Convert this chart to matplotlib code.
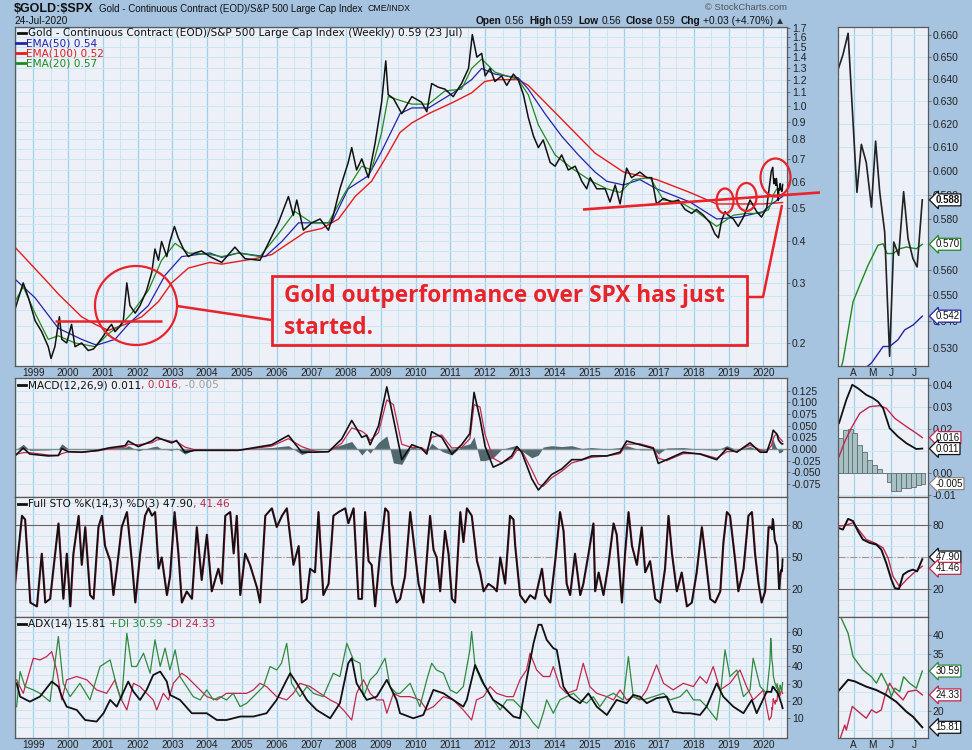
import matplotlib
matplotlib.use('Agg')
import matplotlib.pyplot as plt
from matplotlib.lines import Line2D
from matplotlib.patches import Ellipse, Rectangle
from matplotlib.ticker import NullFormatter

plt.rcParams['font.family'] = ['Liberation Sans', 'DejaVu Sans']

# ---- data (decimal years) ----
gold_x = [1998.47, 1998.71, 1998.86, 1999.05, 1999.24, 1999.43, 1999.51, 1999.62, 1999.75, 1999.82,
          1999.96, 2000.10, 2000.20, 2000.39, 2000.58, 2000.73, 2000.87, 2001.02, 2001.16, 2001.25,
          2001.35, 2001.49, 2001.59, 2001.69, 2001.78, 2001.93, 2002.07, 2002.26, 2002.41, 2002.50,
          2002.60, 2002.69, 2002.84, 2002.93, 2003.06, 2003.17, 2003.32, 2003.46, 2003.65, 2003.84,
          2004.08, 2004.42, 2004.80, 2005.09, 2005.52, 2005.76, 2006.05, 2006.34, 2006.48, 2006.58,
          2006.77, 2007.01, 2007.25, 2007.49, 2007.63, 2007.82, 2008.06, 2008.16, 2008.30, 2008.45,
          2008.64, 2008.83, 2009.02, 2009.14, 2009.21, 2009.36, 2009.60, 2009.89, 2010.17, 2010.32,
          2010.46, 2010.65, 2010.84, 2011.08, 2011.32, 2011.52, 2011.63, 2011.76, 2011.90, 2012.00,
          2012.14, 2012.28, 2012.47, 2012.62, 2012.81, 2012.95, 2013.10, 2013.24, 2013.39, 2013.53,
          2013.67, 2013.87, 2014.01, 2014.20, 2014.39, 2014.59, 2014.78, 2014.92, 2015.02, 2015.21,
          2015.45, 2015.59, 2015.74, 2015.88, 2016.07, 2016.21, 2016.45, 2016.65, 2016.79, 2016.93,
          2017.13, 2017.37, 2017.56, 2017.75, 2017.94, 2018.08, 2018.28, 2018.47, 2018.61, 2018.71,
          2018.80, 2018.90, 2018.99, 2019.14, 2019.28, 2019.43, 2019.62, 2019.81, 2019.95, 2020.10]
gold_close = [0.251, 0.301, 0.272, 0.233, 0.216, 0.195, 0.180, 0.195, 0.239, 0.205,
              0.200, 0.227, 0.195, 0.200, 0.190, 0.192, 0.200, 0.210, 0.221, 0.227,
              0.216, 0.224, 0.233, 0.301, 0.258, 0.245, 0.258, 0.286, 0.324, 0.379,
              0.351, 0.399, 0.360, 0.399, 0.442, 0.409, 0.379, 0.360, 0.369, 0.374,
              0.360, 0.346, 0.384, 0.355, 0.351, 0.394, 0.453, 0.542, 0.477, 0.529,
              0.431, 0.453, 0.465, 0.431, 0.477, 0.571, 0.683, 0.756, 0.649, 0.700,
              0.616, 0.776, 1.029, 1.363, 1.083, 1.056, 0.952, 1.069, 1.029, 0.965,
              1.169, 1.140, 1.125, 1.069, 1.169, 1.295, 1.631, 1.399, 1.435, 1.231,
              1.295, 1.185, 1.231, 1.154, 1.246, 1.200, 1.083, 0.928, 0.817, 0.756,
              0.796, 0.683, 0.666, 0.719, 0.649, 0.666, 0.601, 0.571, 0.616, 0.571,
              0.571, 0.522, 0.586, 0.515, 0.657, 0.616, 0.640, 0.616, 0.616, 0.515,
              0.535, 0.522, 0.529, 0.496, 0.483, 0.496, 0.477, 0.453, 0.420, 0.409,
              0.459, 0.489, 0.477, 0.465, 0.442, 0.471, 0.529, 0.489, 0.471, 0.502]

# last weeks (also the zoomed side panel)
recent_x = [2020.232, 2020.251, 2020.271, 2020.305, 2020.322, 2020.341, 2020.361, 2020.377, 2020.393,
            2020.412, 2020.431, 2020.447, 2020.466, 2020.485, 2020.502, 2020.521, 2020.537, 2020.557]
recent_close = [0.6441, 0.6509, 0.6608, 0.5911, 0.6113, 0.6036, 0.5850, 0.6127, 0.5911,
                0.5749, 0.5270, 0.5709, 0.5656, 0.5914, 0.5722, 0.5643, 0.5610, 0.5880]

ema100_x = [1998.47, 1999.43, 1999.72, 2000.39, 2000.78, 2001.16, 2001.64, 2002.12, 2002.60, 2002.98,
            2003.46, 2004.08, 2004.42, 2005.38, 2005.86, 2006.34, 2006.82, 2007.30, 2007.78, 2008.26,
            2008.73, 2009.12, 2009.55, 2009.89, 2010.37, 2011.08, 2011.61, 2011.99, 2012.28, 2012.95,
            2013.24, 2013.72, 2014.20, 2014.68, 2015.16, 2015.98, 2016.45, 2016.93, 2017.89, 2018.66,
            2019.33, 2020.00, 2020.557]
ema100_y = [0.384, 0.301, 0.279, 0.239, 0.227, 0.218, 0.227, 0.239, 0.265, 0.301,
            0.333, 0.346, 0.342, 0.355, 0.365, 0.394, 0.425, 0.436, 0.465, 0.542,
            0.601, 0.700, 0.838, 0.894, 0.952, 1.029, 1.097, 1.185, 1.200, 1.200,
            1.154, 1.029, 0.917, 0.817, 0.728, 0.640, 0.624, 0.608, 0.557, 0.515,
            0.515, 0.515, 0.520]

ema50_x = [1998.47, 1999.05, 1999.72, 2000.39, 2000.82, 2001.35, 2001.73, 2002.31, 2002.79, 2003.27,
           2004.08, 2004.42, 2004.90, 2005.67, 2006.15, 2006.63, 2007.10, 2007.58, 2008.06, 2008.64,
           2009.02, 2009.55, 2009.89, 2010.37, 2011.08, 2011.61, 2011.90, 2012.28, 2012.95, 2013.24,
           2013.72, 2014.20, 2014.68, 2015.16, 2015.50, 2015.98, 2016.45, 2016.93, 2017.89, 2018.66,
           2019.33, 2020.00, 2020.24,
           2020.361, 2020.406, 2020.431, 2020.463, 2020.489, 2020.521, 2020.557]
ema50_y = [0.309, 0.272, 0.221, 0.205, 0.197, 0.205, 0.227, 0.258, 0.317, 0.360,
           0.369, 0.358, 0.369, 0.360, 0.399, 0.453, 0.453, 0.453, 0.571, 0.624,
           0.737, 0.952, 0.990, 0.990, 1.097, 1.200, 1.295, 1.246, 1.215, 1.125,
           0.952, 0.817, 0.719, 0.640, 0.601, 0.586, 0.608, 0.571, 0.522, 0.465,
           0.471, 0.489, 0.515,
           0.5245, 0.5306, 0.5306, 0.5331, 0.5368, 0.5386, 0.542]

ema20_x = [1998.47, 1998.71, 1999.05, 1999.43, 1999.72, 2000.20, 2000.78, 2001.16, 2001.54, 2001.83,
           2002.31, 2002.69, 2003.08, 2003.46, 2004.08, 2004.42, 2004.90, 2005.52, 2006.05, 2006.53,
           2007.01, 2007.49, 2007.97, 2008.45, 2008.73, 2009.02, 2009.21, 2009.55, 2009.89, 2010.37,
           2010.84, 2011.32, 2011.61, 2011.90, 2012.28, 2012.95, 2013.24, 2013.53, 2014.01, 2014.49,
           2015.06, 2015.50, 2015.88, 2016.26, 2016.74, 2017.13, 2017.61, 2018.08, 2018.66, 2019.14,
           2019.52, 2019.91, 2020.15,
           2020.251, 2020.290, 2020.316, 2020.348, 2020.367, 2020.386, 2020.406, 2020.421, 2020.444,
           2020.470, 2020.496, 2020.534, 2020.557]
ema20_y = [0.265, 0.293, 0.245, 0.205, 0.210, 0.200, 0.195, 0.213, 0.227, 0.245,
           0.286, 0.351, 0.394, 0.369, 0.365, 0.360, 0.369, 0.360, 0.420, 0.489,
           0.453, 0.453, 0.557, 0.666, 0.649, 0.838, 1.069, 1.042, 1.016, 1.016,
           1.111, 1.125, 1.295, 1.381, 1.263, 1.200, 1.083, 0.882, 0.719, 0.657,
           0.601, 0.571, 0.557, 0.608, 0.616, 0.529, 0.522, 0.489, 0.442, 0.477,
           0.483, 0.483, 0.495,
           0.5251, 0.5475, 0.5539, 0.5617, 0.5656, 0.5696, 0.5702, 0.5663, 0.5663,
           0.5682, 0.5689, 0.5682, 0.570]

# MACD(12,26,9): (date, macd, signal)
macd_rows = [
    (1998.47, -0.015, -0.012), (1998.71, 0.002, -0.008), (1998.90, -0.011, -0.008),
    (1999.43, -0.015, -0.013), (1999.72, -0.014, -0.014), (1999.82, 0.001, -0.010),
    (2000.01, -0.006, -0.006), (2000.39, -0.007, -0.007), (2000.87, -0.003, -0.004),
    (2001.16, 0.002, 0.000), (2001.64, 0.007, 0.004), (2001.73, 0.017, 0.010),
    (2002.02, 0.005, 0.009), (2002.41, 0.017, 0.013), (2002.55, 0.025, 0.019),
    (2002.69, 0.021, 0.021), (2002.98, 0.013, 0.016), (2003.12, 0.018, 0.016),
    (2003.36, -0.007, 0.004), (2003.65, -0.003, -0.002), (2004.08, -0.003, -0.003),
    (2004.90, -0.003, -0.003), (2005.86, 0.009, 0.006), (2006.34, 0.029, 0.022),
    (2006.72, -0.007, 0.005), (2007.10, -0.007, -0.005), (2007.49, -0.006, -0.006),
    (2007.87, 0.021, 0.012), (2008.16, 0.061, 0.045), (2008.45, 0.025, 0.038),
    (2008.59, 0.029, 0.030), (2008.69, 0.009, 0.018), (2008.93, 0.049, 0.035),
    (2009.17, 0.133, 0.105), (2009.36, 0.065, 0.095), (2009.60, -0.023, 0.010),
    (2009.89, 0.009, 0.003), (2010.17, 0.001, 0.003), (2010.32, -0.011, -0.005),
    (2010.46, 0.037, 0.025), (2010.75, 0.025, 0.030), (2011.04, -0.011, 0.002),
    (2011.32, 0.009, 0.003), (2011.56, 0.033, 0.022), (2011.68, 0.121, 0.095),
    (2011.85, 0.065, 0.090), (2012.00, 0.005, 0.030), (2012.23, -0.039, -0.020),
    (2012.47, -0.031, -0.030), (2012.76, -0.015, -0.020), (2012.91, 0.005, -0.003),
    (2013.05, -0.007, -0.003), (2013.34, -0.064, -0.045), (2013.53, -0.088, -0.075),
    (2013.67, -0.076, -0.080), (2013.91, -0.055, -0.062), (2014.20, -0.043, -0.048),
    (2014.49, -0.023, -0.030), (2014.78, -0.023, -0.024), (2015.06, -0.015, -0.018),
    (2015.50, -0.015, -0.015), (2015.88, -0.007, -0.010), (2016.07, 0.017, 0.010),
    (2016.45, 0.009, 0.011), (2016.84, 0.001, 0.003), (2016.98, -0.031, -0.020),
    (2017.22, -0.023, -0.025), (2017.70, -0.007, -0.010), (2018.18, -0.011, -0.010),
    (2018.66, -0.023, -0.020), (2018.95, 0.001, -0.006), (2019.24, -0.007, -0.005),
    (2019.62, 0.013, 0.008), (2019.91, -0.007, -0.002), (2020.10, -0.007, -0.006)]
recent_macd = [(2020.236, 0.0226), (2020.264, 0.0332), (2020.287, 0.0401), (2020.309, 0.0385),
               (2020.341, 0.0355), (2020.367, 0.0340), (2020.386, 0.0324), (2020.406, 0.0294),
               (2020.431, 0.0203), (2020.463, 0.0165), (2020.496, 0.0134), (2020.534, 0.0108),
               (2020.557, 0.011)]
recent_signal = [(2020.236, 0.0073), (2020.258, 0.0142), (2020.283, 0.0203), (2020.316, 0.0271),
                 (2020.354, 0.0301), (2020.393, 0.0306), (2020.418, 0.0294), (2020.451, 0.0248),
                 (2020.496, 0.0210), (2020.534, 0.0180), (2020.557, 0.016)]
recent_hist_x = [2020.241, 2020.260, 2020.279, 2020.297, 2020.316, 2020.335, 2020.354, 2020.372, 2020.391,
                 2020.410, 2020.429, 2020.447, 2020.466, 2020.485, 2020.504, 2020.522, 2020.541, 2020.560]
recent_hist = [0.016, 0.0195, 0.020, 0.018, 0.0126, 0.0096, 0.0058, 0.0035, 0.0017,
               0.0, -0.0041, -0.0084, -0.0084, -0.0072, -0.0072, -0.0064, -0.0056, -0.005]

# Full STO %K(14,3)
sto_x = [1998.47, 1998.67, 1998.76, 1998.91, 1999.10, 1999.24, 1999.34, 1999.48, 1999.72, 1999.86,
         1999.96, 2000.06, 2000.15, 2000.30, 2000.39, 2000.49, 2000.63, 2000.73, 2000.87, 2000.97,
         2001.06, 2001.21, 2001.30, 2001.40, 2001.54, 2001.69, 2001.83, 2001.93, 2002.07, 2002.21,
         2002.31, 2002.41, 2002.50, 2002.60, 2002.69, 2002.84, 2002.93, 2003.06, 2003.17, 2003.27,
         2003.41, 2003.56, 2003.70, 2003.84, 2003.99,
         2004.13, 2004.32, 2004.42, 2004.52, 2004.66, 2004.76, 2004.85, 2004.95, 2005.09, 2005.23,
         2005.43, 2005.52, 2005.67, 2005.86, 2006.00, 2006.15, 2006.29, 2006.48, 2006.63, 2006.72,
         2006.86, 2006.96, 2007.10, 2007.20, 2007.34, 2007.49, 2007.63, 2007.78, 2007.97, 2008.06,
         2008.21, 2008.35, 2008.45, 2008.54, 2008.64, 2008.73, 2008.83, 2008.97, 2009.12, 2009.21,
         2009.31, 2009.45,
         2009.55, 2009.69, 2009.84, 2009.98, 2010.08, 2010.22, 2010.41, 2010.51, 2010.60, 2010.70,
         2010.84, 2010.94, 2011.04, 2011.13, 2011.28, 2011.37, 2011.47, 2011.61, 2011.76, 2011.85,
         2011.95, 2012.09, 2012.24, 2012.33, 2012.43, 2012.57, 2012.71, 2012.81, 2012.86, 2013.00,
         2013.15, 2013.29, 2013.43, 2013.63, 2013.72, 2013.87, 2014.01, 2014.15, 2014.25, 2014.34,
         2014.44, 2014.58, 2014.73, 2014.82, 2014.97, 2015.11,
         2015.16, 2015.26, 2015.40, 2015.54, 2015.69, 2015.78, 2015.93, 2016.02, 2016.12, 2016.22,
         2016.36, 2016.50, 2016.60, 2016.74, 2016.89, 2017.03, 2017.17, 2017.27, 2017.37, 2017.51,
         2017.65, 2017.80, 2017.94, 2018.08, 2018.23, 2018.32, 2018.47, 2018.61, 2018.76, 2018.85,
         2018.95, 2019.04, 2019.19, 2019.28, 2019.43, 2019.57, 2019.67, 2019.76, 2019.86, 2019.95,
         2020.05, 2020.15]
sto_k = [25.0, 88.5, 85.0, 7.4, 3.8, 53.2, 7.4, 10.9, 81.4, 10.9,
         53.2, 3.8, 53.2, 88.5, 42.6, 77.9, 14.4, 10.9, 77.9, 88.5,
         60.3, 46.2, 14.4, 39.1, 77.9, 92.0, 46.2, 7.4, 53.2, 88.5,
         95.5, 88.5, 92.0, 39.1, 49.7, 14.4, 32.1, 92.0, 53.2, 7.4,
         17.9, 10.9, 77.9, 28.5, 70.9,
         17.9, 39.1, 25.0, 88.5, 92.0, 53.2, 88.5, 14.4, 53.2, 42.6,
         21.5, 7.4, 88.5, 95.5, 77.9, 88.5, 95.5, 42.6, 60.3, 7.4,
         10.9, 39.1, 35.6, 92.0, 14.4, 25.0, 88.5, 92.0, 95.5, 81.4,
         95.5, 10.9, 10.9, 92.0, 46.2, 42.6, 3.8, 53.2, 95.5, 92.0,
         25.0, 7.4,
         10.9, 32.1, 92.0, 53.2, 25.0, 7.4, 88.5, 56.7, 49.7, 17.9,
         74.4, 53.2, 10.9, 7.4, 92.0, 63.8, 95.5, 88.5, 46.2, 35.6,
         17.9, 25.0, 21.5, 17.9, 49.7, 25.0, 88.5, 85.0, 60.3, 14.4,
         7.4, 14.4, 10.9, 39.1, 14.4, 7.4, 46.2, 92.0, 74.4, 25.0,
         14.4, 53.2, 14.4, 25.0, 53.2, 81.4,
         17.9, 35.6, 14.4, 42.6, 81.4, 70.9, 7.4, 53.2, 92.0, 60.3,
         42.6, 77.9, 35.6, 46.2, 10.9, 7.4, 39.1, 88.5, 53.2, 17.9,
         35.6, 3.8, 7.4, 35.6, 77.9, 53.2, 10.9, 7.4, 17.9, 63.8,
         92.0, 88.5, 46.2, 17.9, 39.1, 88.5, 92.0, 53.2, 25.0, 7.4,
         17.9, 77.9]
recent_k = [(2020.232, 77.2), (2020.251, 75.6), (2020.271, 85.6), (2020.290, 83.5), (2020.309, 74.1),
            (2020.328, 66.3), (2020.354, 63.2), (2020.380, 61.6), (2020.399, 56.9), (2020.418, 44.4),
            (2020.438, 28.8), (2020.451, 21.0), (2020.467, 20.1), (2020.483, 33.5), (2020.502, 36.6),
            (2020.521, 38.2), (2020.537, 36.6), (2020.557, 47.90)]
recent_d = [(2020.232, 78.8), (2020.258, 79.4), (2020.290, 81.9), (2020.316, 74.1), (2020.341, 66.3),
            (2020.373, 63.2), (2020.406, 58.5), (2020.425, 49.1), (2020.444, 32.0), (2020.470, 22.0),
            (2020.496, 28.8), (2020.521, 34.5), (2020.557, 41.46)]

# ADX(14), +DI, -DI
adx_pts = [(1998.52, 30.2), (1998.62, 22.5), (1998.90, 19.6), (1999.19, 22.5), (1999.53, 31.2),
           (1999.72, 28.3), (1999.82, 22.5), (1999.96, 16.7), (2000.25, 14.8), (2000.49, 9.0),
           (2000.82, 8.1), (2001.02, 12.9), (2001.21, 20.6), (2001.40, 16.7), (2001.73, 31.2),
           (2001.88, 25.4), (2002.07, 20.6), (2002.26, 26.4), (2002.45, 35.0), (2002.65, 37.0),
           (2002.84, 31.2), (2002.93, 23.5), (2003.22, 20.6), (2003.56, 12.9), (2003.99, 12.9),
           (2004.28, 9.0), (2004.56, 9.0), (2004.95, 11.0), (2005.33, 11.0), (2005.71, 12.9),
           (2006.00, 20.6), (2006.29, 32.2), (2006.39, 36.0), (2006.58, 30.2), (2006.87, 20.6),
           (2007.15, 14.8), (2007.54, 10.0), (2007.82, 18.7), (2008.06, 41.8), (2008.16, 44.7),
           (2008.30, 30.2), (2008.59, 20.6), (2008.88, 22.5), (2009.17, 32.2), (2009.45, 20.6),
           (2009.55, 12.9), (2009.93, 10.0), (2010.22, 11.9), (2010.51, 26.4), (2010.80, 24.4),
           (2011.08, 20.6), (2011.37, 16.7), (2011.47, 20.6), (2011.71, 40.8), (2011.95, 30.2),
           (2012.23, 20.6), (2012.52, 16.7), (2012.81, 11.0), (2013.00, 10.0), (2013.19, 32.2),
           (2013.39, 53.3), (2013.53, 64.0), (2013.62, 64.0), (2013.77, 55.3), (2013.96, 50.5),
           (2014.06, 49.5), (2014.25, 28.3), (2014.44, 22.5), (2014.73, 18.7), (2014.97, 24.4),
           (2015.21, 16.7), (2015.50, 11.9), (2015.78, 20.6), (2016.07, 18.7), (2016.26, 23.5),
           (2016.45, 22.5), (2016.65, 18.7), (2016.93, 21.6), (2017.22, 22.5), (2017.41, 13.8),
           (2017.70, 12.9), (2017.89, 12.9), (2018.18, 11.9), (2018.37, 16.7), (2018.66, 30.2),
           (2018.85, 22.5), (2019.14, 16.7), (2019.43, 12.9), (2019.67, 20.6), (2019.81, 12.9),
           (2020.10, 25.4),
           (2020.232, 25.2), (2020.271, 28.3), (2020.296, 27.9), (2020.341, 26.5), (2020.380, 25.6),
           (2020.418, 24.3), (2020.457, 22.5), (2020.496, 19.9), (2020.521, 18.6), (2020.557, 15.81)]
pdi_pts = [(1998.52, 16.7), (1998.62, 37.0), (1998.76, 28.3), (1999.00, 26.4), (1999.19, 24.4),
           (1999.48, 19.6), (1999.72, 57.2), (1999.86, 30.2), (2000.06, 22.5), (2000.34, 30.2),
           (2000.63, 20.6), (2000.92, 39.9), (2001.21, 43.7), (2001.40, 28.3), (2001.54, 20.6),
           (2001.69, 59.1), (2001.83, 39.9), (2001.97, 39.9), (2002.17, 47.6), (2002.36, 36.0),
           (2002.50, 55.3), (2002.65, 39.9), (2002.79, 50.5), (2002.93, 37.9), (2003.08, 49.5),
           (2003.22, 34.1), (2003.41, 28.3), (2003.60, 22.5), (2003.80, 20.6), (2003.99, 26.4),
           (2004.18, 20.6), (2004.37, 22.5), (2004.56, 20.6), (2004.75, 24.4), (2004.95, 16.7),
           (2005.14, 18.7), (2005.33, 22.5), (2005.62, 28.3), (2005.81, 39.9), (2006.00, 37.9),
           (2006.14, 41.8), (2006.29, 53.3), (2006.43, 30.2), (2006.67, 22.5), (2006.87, 28.3),
           (2007.06, 24.4), (2007.34, 22.5), (2007.63, 36.0), (2007.82, 34.1), (2008.02, 53.3),
           (2008.21, 43.7), (2008.40, 41.8), (2008.50, 22.5), (2008.69, 32.2), (2008.88, 36.0),
           (2009.12, 44.7), (2009.26, 28.3), (2009.45, 24.4), (2009.55, 24.4), (2009.84, 30.2),
           (2010.12, 16.7), (2010.32, 32.2), (2010.46, 41.8), (2010.60, 37.9), (2010.80, 36.0),
           (2010.99, 26.4), (2011.18, 24.4), (2011.37, 28.3), (2011.56, 49.5), (2011.61, 60.1),
           (2011.71, 39.9), (2011.90, 31.2), (2012.23, 20.6), (2012.43, 14.8), (2012.62, 20.6),
           (2012.81, 20.6), (2013.00, 16.7), (2013.19, 12.9), (2013.39, 7.1), (2013.53, 4.2),
           (2013.67, 12.9), (2013.77, 20.6), (2013.96, 12.9), (2014.15, 20.6), (2014.34, 22.5),
           (2014.54, 24.4), (2014.73, 20.6), (2014.92, 18.7), (2015.11, 22.5), (2015.30, 16.7),
           (2015.50, 22.5), (2015.69, 24.4), (2015.97, 20.6), (2016.12, 45.6), (2016.26, 22.5),
           (2016.55, 20.6), (2016.84, 22.5), (2017.13, 24.4), (2017.32, 20.6), (2017.61, 22.5),
           (2017.80, 26.4), (2017.99, 20.6), (2018.18, 20.6), (2018.37, 16.7), (2018.66, 9.0),
           (2018.76, 22.5), (2018.90, 49.5), (2019.04, 34.1), (2019.24, 37.9), (2019.43, 22.5),
           (2019.62, 26.4), (2019.71, 44.7), (2019.91, 28.3), (2020.10, 24.4), (2020.19, 41.8),
           (2020.215, 56.2),
           (2020.232, 52.0), (2020.245, 44.4), (2020.271, 40.5), (2020.290, 34.4), (2020.328, 30.9),
           (2020.361, 29.1), (2020.380, 27.4), (2020.399, 30.0), (2020.425, 26.5), (2020.438, 23.9),
           (2020.451, 26.1), (2020.470, 25.2), (2020.485, 29.1), (2020.508, 27.4), (2020.534, 26.1),
           (2020.557, 30.59)]
mdi_pts = [(1998.52, 32.2), (1998.71, 24.4), (1999.00, 44.7), (1999.19, 43.7), (1999.38, 45.6),
           (1999.53, 48.5), (1999.67, 37.9), (1999.82, 20.6), (1999.96, 32.2), (2000.25, 34.1),
           (2000.54, 32.2), (2000.82, 26.4), (2001.11, 24.4), (2001.35, 32.2), (2001.49, 22.5),
           (2001.69, 14.8), (2001.88, 30.2), (2002.07, 28.3), (2002.26, 24.4), (2002.45, 20.6),
           (2002.55, 14.8), (2002.74, 24.4), (2002.89, 20.6), (2003.03, 30.2), (2003.27, 36.0),
           (2003.41, 34.1), (2003.70, 28.3), (2003.99, 22.5), (2004.28, 20.6), (2004.56, 24.4),
           (2004.85, 24.4), (2005.14, 24.4), (2005.33, 26.4), (2005.52, 30.2), (2005.71, 28.3),
           (2006.00, 22.5), (2006.29, 20.6), (2006.48, 24.4), (2006.67, 30.2), (2006.96, 28.3),
           (2007.25, 24.4), (2007.54, 20.6), (2007.73, 18.7), (2007.92, 14.8), (2008.16, 9.0),
           (2008.30, 24.4), (2008.50, 32.2), (2008.69, 24.4), (2008.88, 20.6), (2009.07, 20.6),
           (2009.17, 12.9), (2009.36, 24.4), (2009.55, 22.5), (2009.84, 22.5), (2010.12, 20.6),
           (2010.32, 14.8), (2010.51, 16.7), (2010.80, 22.5), (2011.08, 20.6), (2011.37, 14.8),
           (2011.61, 9.0), (2011.75, 20.6), (2011.95, 22.5), (2012.14, 28.3), (2012.33, 24.4),
           (2012.62, 22.5), (2012.81, 22.5), (2013.00, 32.2), (2013.19, 37.9), (2013.29, 47.6),
           (2013.48, 37.9), (2013.67, 34.1), (2013.86, 34.1), (2013.96, 39.9), (2014.15, 28.3),
           (2014.34, 24.4), (2014.63, 26.4), (2014.82, 41.8), (2015.01, 28.3), (2015.21, 24.4),
           (2015.50, 22.5), (2015.69, 20.6), (2015.88, 26.4), (2016.07, 20.6), (2016.26, 22.5),
           (2016.45, 20.6), (2016.65, 26.4), (2016.93, 40.8), (2017.13, 30.2), (2017.41, 26.4),
           (2017.70, 30.2), (2017.99, 28.3), (2018.18, 34.1), (2018.37, 30.2), (2018.56, 39.9),
           (2018.76, 26.4), (2019.04, 30.2), (2019.33, 37.9), (2019.52, 28.3), (2019.71, 20.6),
           (2019.91, 24.4), (2020.00, 26.4), (2020.17, 9.0),
           (2020.232, 11.0), (2020.245, 13.8), (2020.258, 16.4), (2020.264, 15.1), (2020.287, 21.3),
           (2020.316, 19.6), (2020.341, 18.2), (2020.361, 20.4), (2020.380, 19.6), (2020.399, 20.4),
           (2020.412, 23.9), (2020.431, 27.4), (2020.451, 25.2), (2020.483, 23.0), (2020.502, 25.2),
           (2020.534, 25.6), (2020.557, 24.33)]

years = list(range(1999, 2021))
side_months = ['A', 'M', 'J', 'J']
side_month_x = [2020.292, 2020.364, 2020.436, 2020.525]

# ---- colours ----
BG = '#a6c3e0'
PANEL = '#eef0f7'
GRID_MAJ = '#9dd2ee'
GRID_MIN = '#c9e5f4'
SPINE = '#5a5a5a'
ANN = '#e8232a'
CRIMSON = '#c2284e'
GREEN_DI = '#2f8a3f'
C_EMA20 = '#1e8a1e'
C_EMA50 = '#2323a8'
C_EMA100 = '#e51c1c'
HIST = '#50686e'

W, H = 972, 750
fig = plt.figure(figsize=(W / 100, H / 100), dpi=100)
fig.patch.set_facecolor(BG)


def fx(px):
    return px / W


def fy(py):
    return 1 - py / H


def panel(left, top, right, bottom):
    ax = fig.add_axes([fx(left), fy(bottom), (right - left) / W, (bottom - top) / H])
    ax.set_facecolor(PANEL)
    for s in ax.spines.values():
        s.set_color(SPINE)
        s.set_linewidth(0.9)
    ax.yaxis.tick_right()
    ax.tick_params(axis='y', which='major', length=2, width=0.6, color='#666', pad=1.5,
                   labelsize=7.5, labelcolor='#222')
    ax.tick_params(axis='y', which='minor', length=0)
    ax.tick_params(axis='x', which='both', length=0, labelbottom=False, labelsize=7.3,
                   labelcolor='#222', pad=1.5)
    ax.set_axisbelow(True)
    return ax


def year_grid(ax):
    ax.set_xlim(1998.473, 2020.683)
    ax.set_xticks(years)
    ax.set_xticks([y + 0.5 for y in range(1998, 2021)], minor=True)
    ax.grid(which='major', axis='x', color=GRID_MAJ, lw=0.9)
    ax.grid(which='minor', axis='x', color=GRID_MIN, lw=0.7)
    ax.grid(which='both', axis='y', color=GRID_MIN, lw=0.7)


def side_grid(ax):
    ax.set_xlim(2020.232, 2020.579)
    ax.set_xticks(side_month_x)
    ax.set_xticklabels(side_months)
    ax.grid(which='major', axis='x', color=GRID_MAJ, lw=0.9)
    ax.grid(which='both', axis='y', color=GRID_MIN, lw=0.7)


def tag(ax, y, s, color, bold=False, dy=0.0):
    ax.annotate(s, xy=(1.0, y), xycoords=('axes fraction', 'data'), xytext=(5.5, dy),
                textcoords='offset points', ha='left', va='center', fontsize=7.0, color='#111',
                fontweight='bold' if bold else 'normal', annotation_clip=False, zorder=20,
                bbox=dict(boxstyle='larrow,pad=0.1', fc='white', ec=color, lw=0.9))


def unzip(pts):
    return [p[0] for p in pts], [p[1] for p in pts]


# ---------------- main price panel ----------------
ax = panel(15, 27, 787, 366)
ax.set_yscale('log')
year_grid(ax)
ax.set_ylim(0.171, 1.717)
main_ticks = [0.2, 0.3, 0.4, 0.5, 0.6, 0.7, 0.8, 0.9, 1.0, 1.1, 1.2, 1.3, 1.4, 1.5, 1.6, 1.7]
ax.set_yticks(main_ticks)
ax.set_yticklabels(['%.1f' % v for v in main_ticks])
ax.set_yticks([0.225, 0.25, 0.275, 0.325, 0.35, 0.375, 0.425, 0.45, 0.475, 0.55, 0.65, 0.75, 0.85],
              minor=True)
ax.yaxis.set_minor_formatter(NullFormatter())
ax.tick_params(axis='x', labelbottom=True)
ax.set_xticklabels([str(y) for y in years])
ax.plot(ema100_x, ema100_y, color=C_EMA100, lw=1.0)
ax.plot(ema50_x, ema50_y, color=C_EMA50, lw=0.9)
ax.plot(ema20_x, ema20_y, color=C_EMA20, lw=0.9)
ax.plot(gold_x + recent_x, gold_close + recent_close, color='#111', lw=1.1)

# side price panel (0.570 tick sits under the EMA(20) tag)
sx = panel(838, 27, 928, 366)
sx.set_yscale('log')
side_grid(sx)
sx.set_ylim(0.5234, 0.6637)
side_ticks = [0.53, 0.54, 0.55, 0.56, 0.58, 0.59, 0.60, 0.61, 0.62, 0.63, 0.64, 0.65, 0.66]
sx.set_yticks(side_ticks)
sx.set_yticklabels(['%.3f' % v for v in side_ticks])
sx.set_yticks([0.57], minor=True)
sx.yaxis.set_minor_formatter(NullFormatter())
sx.tick_params(axis='x', labelbottom=True)
sx.plot(ema50_x, ema50_y, color=C_EMA50, lw=1.0)
sx.plot(ema20_x, ema20_y, color=C_EMA20, lw=1.0)
sx.plot(recent_x, recent_close, color='#222', lw=1.2)
tag(sx, recent_close[-1], '0.588', '#111', bold=True)
tag(sx, ema20_y[-1], '0.570', C_EMA20)
tag(sx, ema50_y[-1], '0.542', C_EMA50)

# ---------------- MACD ----------------
mx = panel(15, 378, 787, 497)
year_grid(mx)
mx.set_ylim(-0.103, 0.152)
macd_ticks = [0.125, 0.100, 0.075, 0.050, 0.025, 0.0, -0.025, -0.050, -0.075]
mx.set_yticks(macd_ticks)
mx.set_yticklabels(['%.3f' % v for v in macd_ticks])
m_x = [r[0] for r in macd_rows]
m_hist = [r[1] - r[2] for r in macd_rows]
mx.fill_between(m_x, 0, m_hist, color=HIST, lw=0)
mx.fill_between(recent_hist_x, 0, recent_hist, color=HIST, lw=0)
mx.axhline(0, color='#7d8f94', lw=1.0)
rm_x, rm_y = unzip(recent_macd)
rs_x, rs_y = unzip(recent_signal)
mx.plot(m_x + rs_x, [r[2] for r in macd_rows] + rs_y, color=CRIMSON, lw=0.9)
mx.plot(m_x + rm_x, [r[1] for r in macd_rows] + rm_y, color='#111', lw=1.2)

smx = panel(838, 378, 928, 497)
side_grid(smx)
smx.tick_params(axis='x', labelbottom=False)
smx.set_ylim(-0.0111, 0.0432)
smx.set_yticks([0.04, 0.03, 0.02, 0.0, -0.01])
smx.set_yticklabels(['0.04', '0.03', '0.02', '0.00', '-0.01'])
smx.set_yticks([0.01], minor=True)
smx.bar(recent_hist_x, recent_hist, width=0.0185, color='#a9c0c2', edgecolor='#5a6e72', lw=0.6)
smx.plot(rs_x, rs_y, color=CRIMSON, lw=1.0)
smx.plot(rm_x, rm_y, color='#111', lw=1.3)
tag(smx, 0.016, '0.016', CRIMSON)
tag(smx, 0.011, '0.011', '#111')
tag(smx, -0.005, '-0.005', '#888')

# ---------------- Full STO ----------------
stx = panel(15, 497, 787, 617)
year_grid(stx)
stx.set_ylim(-6, 106)
stx.set_yticks([80, 50, 20])
stx.set_yticks([0, 10, 30, 40, 60, 70, 90, 100], minor=True)
stx.axhline(80, color='#666', lw=0.8)
stx.axhline(20, color='#666', lw=0.8)
stx.axhline(50, color='#999', lw=0.8, ls='-.')
rk_x, rk_y = unzip(recent_k)
rd_x, rd_y = unzip(recent_d)
# %D is the %K line lagged by about a week
stx.plot([v + 0.019 for v in sto_x] + rd_x, sto_k + rd_y, color=CRIMSON, lw=0.9)
stx.plot(sto_x + rk_x, sto_k + rk_y, color='#111', lw=1.3)

sstx = panel(838, 497, 928, 617)
side_grid(sstx)
sstx.tick_params(axis='x', labelbottom=False)
sstx.set_ylim(-6, 106)
sstx.set_yticks([80, 20])
sstx.set_yticks([0, 10, 30, 40, 50, 60, 70, 90, 100], minor=True)
sstx.axhline(80, color='#666', lw=0.8)
sstx.axhline(20, color='#666', lw=0.8)
sstx.axhline(50, color='#999', lw=0.8, ls='-.')
sstx.plot(rd_x, rd_y, color=CRIMSON, lw=1.0)
sstx.plot(rk_x, rk_y, color='#111', lw=1.4)
tag(sstx, 47.90, '47.90', '#111', dy=1.6)
tag(sstx, 41.46, '41.46', CRIMSON, dy=-1.6)

# ---------------- ADX ----------------
dx = panel(15, 617, 787, 738)
year_grid(dx)
dx.set_ylim(-1.4, 68.5)
dx.set_yticks([10, 20, 30, 40, 50, 60])
dx.set_yticks([5, 15, 25, 35, 45, 55, 65], minor=True)
dx.tick_params(axis='x', labelbottom=True)
dx.set_xticklabels([str(y) for y in years])
a_x, a_y = unzip(adx_pts)
p_x, p_y = unzip(pdi_pts)
n_x, n_y = unzip(mdi_pts)
dx.plot(n_x, n_y, color=CRIMSON, lw=0.9)
dx.plot(p_x, p_y, color=GREEN_DI, lw=0.9)
dx.plot(a_x, a_y, color='#111', lw=1.3)

sdx = panel(838, 617, 928, 738)
side_grid(sdx)
sdx.tick_params(axis='x', labelbottom=True)
sdx.set_ylim(13.0, 44.8)
sdx.set_yticks([20, 35, 40])
sdx.set_yticks([15, 25, 30], minor=True)
sdx.plot(n_x, n_y, color=CRIMSON, lw=1.0)
sdx.plot(p_x, p_y, color=GREEN_DI, lw=1.0)
sdx.plot(a_x, a_y, color='#111', lw=1.4)
tag(sdx, 30.59, '30.59', GREEN_DI)
tag(sdx, 24.33, '24.33', CRIMSON)
tag(sdx, 15.81, '15.81', '#111')

# ---------------- texts ----------------
renderer = fig.canvas.get_renderer()


def runs(x, y, parts, size, family='Liberation Sans'):
    for p in parts:
        s, c, w, gap = p[:4]
        sz = p[4] if len(p) > 4 else size
        t = fig.text(fx(x), fy(y), s, color=c, fontweight=w, fontsize=sz, family=family,
                     ha='left', va='center')
        x += t.get_window_extent(renderer).width + gap


def marker(x0, x1, y, color):
    fig.add_artist(Line2D([fx(x0), fx(x1)], [fy(y), fy(y)], color=color, lw=2.0,
                          transform=fig.transFigure))


runs(14, 8.5, [('\\$GOLD:\\$SPX', '#111', 'bold', 5, 9.0),
               ('Gold - Continuous Contract (EOD)/S&P 500 Large Cap Index', '#111', 'normal', 5, 7.0),
               ('CME/INDX', '#111', 'normal', 0, 6.3)], 7.0)
runs(14, 20.5, [('24-Jul-2020', '#111', 'normal', 0)], 7.2)
fig.text(fx(787), fy(8), '\u00a9 StockCharts.com', color='#555', fontsize=6.8, ha='right', va='center')
runs(476, 20.5, [('Open', '#111', 'bold', 2.5), ('0.56', '#111', 'normal', 5),
                 ('High', '#111', 'bold', 2.5), ('0.59', '#111', 'normal', 5),
                 ('Low', '#111', 'bold', 2.5), ('0.56', '#111', 'normal', 5),
                 ('Close', '#111', 'bold', 2.5), ('0.59', '#111', 'normal', 5),
                 ('Chg', '#111', 'bold', 2.5), ('+0.03 (+4.70%)', '#111', 'normal', 2),
                 ('\u25b2', '#333', 'normal', 0)], 7.3)

LF = 'DejaVu Sans'
LS = 7.6
marker(18, 26, 33, '#111')
runs(28, 33, [('Gold - Continuous Contract (EOD)/S&P 500 Large Cap Index (Weekly) 0.59 (23 Jul)',
               '#111', 'normal', 0)], LS, LF)
marker(16, 25, 43, C_EMA50)
runs(26, 43, [('EMA(50) 0.54', C_EMA50, 'normal', 0)], LS, LF)
marker(16, 25, 53, C_EMA100)
runs(26, 53, [('EMA(100) 0.52', C_EMA100, 'normal', 0)], LS, LF)
marker(16, 25, 63, C_EMA20)
runs(26, 63, [('EMA(20) 0.57', C_EMA20, 'normal', 0)], LS, LF)

marker(18, 26, 385, '#111')
runs(28, 385, [('MACD(12,26,9) 0.011', '#111', 'normal', 0), (', 0.016', CRIMSON, 'normal', 0),
               (', -0.005', '#a0a0a0', 'normal', 0)], LS, LF)
marker(18, 26, 504, '#111')
runs(28, 504, [('Full STO %K(14,3) %D(3) 47.90', '#111', 'normal', 0), (', 41.46', CRIMSON, 'normal', 0)],
     LS, LF)
marker(18, 26, 624, '#111')
runs(28, 624, [('ADX(14) 15.81', '#111', 'normal', 4), ('+DI 30.59', GREEN_DI, 'normal', 4),
               ('-DI 24.33', CRIMSON, 'normal', 0)], LS, LF)


# ---------------- hand-drawn annotation ----------------
def fline(xs, ys, lw=1.8):
    fig.add_artist(Line2D([fx(v) for v in xs], [fy(v) for v in ys], color=ANN, lw=lw,
                          transform=fig.transFigure, solid_capstyle='butt'))


def fcircle(cx, cy, w, h, lw=1.6):
    fig.add_artist(Ellipse((fx(cx), fy(cy)), w / W, h / H, fill=False, ec=ANN, lw=lw,
                           transform=fig.transFigure))


fcircle(136, 305.5, 82, 79)
fline([55, 162], [320.5, 320.5])
fline([177, 271], [306, 320])
fig.add_artist(Rectangle((fx(272), fy(345)), (747 - 272) / W, (345 - 276) / H, fill=False,
                         ec=ANN, lw=2.0, transform=fig.transFigure))
fig.text(fx(284), fy(302), 'Gold outperformance over SPX has just', color=ANN, fontsize=16.3,
         family='Open Sans', fontweight='bold', ha='left', va='baseline')
fig.text(fx(284), fy(334), 'started.', color=ANN, fontsize=16.3,
         family='Open Sans', fontweight='bold', ha='left', va='baseline')
fline([747, 763, 782], [297, 297, 205])
fline([583, 820], [209.5, 192.5], lw=1.9)
fcircle(725, 201, 17, 25)
fcircle(746.5, 197, 20, 28)
fcircle(775.5, 177.5, 30, 38)

fig.savefig('out.png', dpi=100, facecolor=BG)
